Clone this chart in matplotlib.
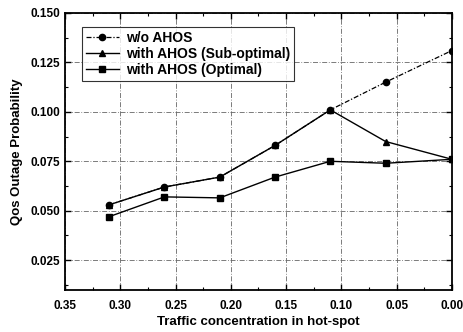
import matplotlib
matplotlib.use("Agg")
import matplotlib.pyplot as plt
from matplotlib.ticker import MultipleLocator

plt.rcParams['font.family'] = ['Liberation Sans', 'DejaVu Sans']

x = [0.31, 0.26, 0.21, 0.16, 0.11, 0.06, 0.00]
wo_ahos = [0.053, 0.062, 0.067, 0.083, 0.101, 0.115, 0.131]
sub_opt = [0.053, 0.062, 0.067, 0.083, 0.101, 0.085, 0.076]
optimal = [0.047, 0.057, 0.0565, 0.067, 0.075, 0.074, 0.076]
xticks = [0.35, 0.30, 0.25, 0.20, 0.15, 0.10, 0.05, 0.00]
yticks = [0.025, 0.050, 0.075, 0.100, 0.125, 0.150]

fig = plt.figure(figsize=(4.64, 3.32), dpi=100)
ax = fig.add_axes([0.140, 0.127, 0.834, 0.834])

ax.plot(x, wo_ahos, color='black', linestyle='-.', linewidth=0.9, marker='o', markersize=4.5,
        label='w/o AHOS', dashes=(4, 1.5, 1, 1.5))
ax.plot(x, sub_opt, color='black', linestyle='-', linewidth=1.0, marker='^', markersize=4.5,
        label='with AHOS (Sub-optimal)')
ax.plot(x, optimal, color='black', linestyle='-', linewidth=1.0, marker='s', markersize=4.5,
        label='with AHOS (Optimal)')

ax.set_xlim(0.35, 0.00)
ax.set_ylim(0.010, 0.150)
ax.set_xticks(xticks)
ax.set_xticklabels([f'{t:.2f}' for t in xticks], fontweight='bold', fontsize=8.5)
ax.set_yticks(yticks)
ax.set_yticklabels([f'{t:.3f}' for t in yticks], fontweight='bold', fontsize=8.5)
ax.xaxis.set_minor_locator(MultipleLocator(0.025))
ax.yaxis.set_minor_locator(MultipleLocator(0.0125))
ax.tick_params(which='both', direction='in', top=True, right=True)
ax.tick_params(axis='x', which='major', pad=7)
ax.tick_params(which='major', length=4, width=1.0)
ax.tick_params(which='minor', length=2, width=0.8)
for s in ax.spines.values():
    s.set_linewidth(1.3)

ax.grid(True, which='major', color='#666666', linestyle='-.', linewidth=0.6, dashes=(6, 2, 1, 2))

ax.set_xlabel('Traffic concentration in hot-spot', fontsize=9.5, fontweight='bold', labelpad=3)
ax.set_ylabel('Qos Outage Probability', fontsize=9.5, fontweight='bold', labelpad=5)

leg = ax.legend(loc='upper left', prop={'size': 10, 'weight': 'bold'}, frameon=True, fancybox=False,
                edgecolor='black', borderpad=0.3, handlelength=2.4, labelspacing=0.15,
                handletextpad=0.5, bbox_to_anchor=(0.025, 0.975))
leg.get_frame().set_linewidth(0.8)

fig.savefig('out.png', dpi=100)
